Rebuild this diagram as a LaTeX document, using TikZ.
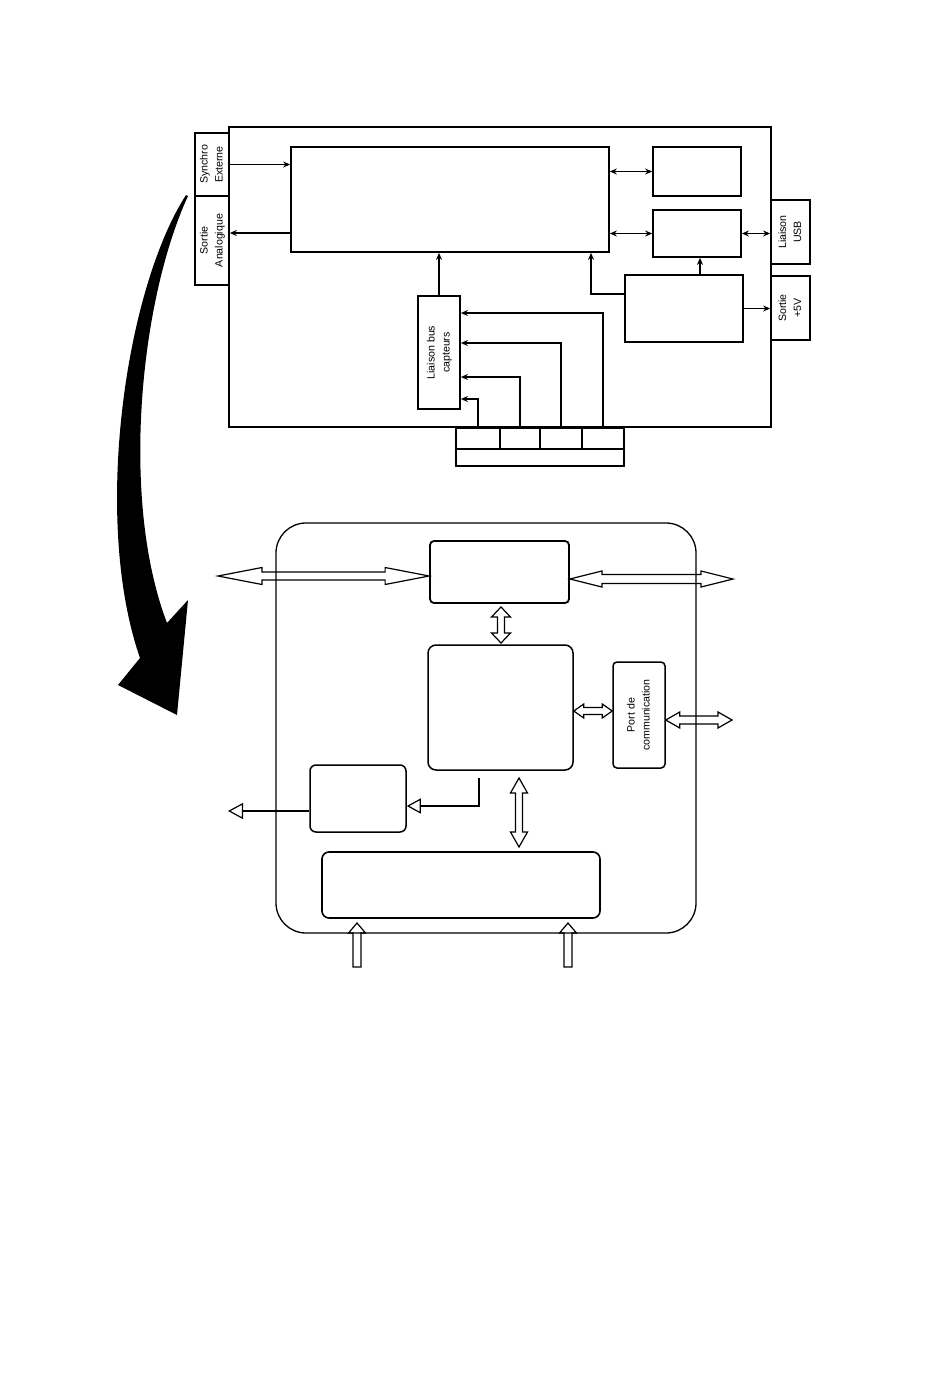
\documentclass[tikz,border=0pt]{standalone}
\usepackage{fontspec}
\setmainfont{Liberation Sans}
\usetikzlibrary{arrows.meta,calc}
\newcommand\vtext[1]{\rotatebox{90}{\begin{tabular}{@{}c@{}}#1\end{tabular}}}
% horizontal hollow double arrow: left tip, right tip, shaft half, head half, head length
\newcommand\hdbl[5]{\draw[hol] let \p1=#1, \p2=#2 in
  (\x1,\y1) -- (\x1+#5,\y1+#4) -- (\x1+#5,\y1+#3) -- (\x2-#5,\y1+#3) -- (\x2-#5,\y1+#4)
  -- (\x2,\y1) -- (\x2-#5,\y1-#4) -- (\x2-#5,\y1-#3) -- (\x1+#5,\y1-#3) -- (\x1+#5,\y1-#4) -- cycle;}
% vertical hollow double arrow: top tip, bottom tip
\newcommand\vdbl[5]{\draw[hol] let \p1=#1, \p2=#2 in
  (\x1,\y1) -- (\x1+#4,\y1-#5) -- (\x1+#3,\y1-#5) -- (\x1+#3,\y2+#5) -- (\x1+#4,\y2+#5)
  -- (\x1,\y2) -- (\x1-#4,\y2+#5) -- (\x1-#3,\y2+#5) -- (\x1-#3,\y1-#5) -- (\x1-#4,\y1-#5) -- cycle;}
% vertical hollow single arrow pointing up: tip, tail
\newcommand\vup[5]{\draw[hol] let \p1=#1, \p2=#2 in
  (\x1,\y1) -- (\x1+#4,\y1-#5) -- (\x1+#3,\y1-#5) -- (\x1+#3,\y2) -- (\x1-#3,\y2)
  -- (\x1-#3,\y1-#5) -- (\x1-#4,\y1-#5) -- cycle;}
\begin{document}
\begin{tikzpicture}[x=1pt,y=-1pt,
  lbl/.style={font=\fontsize{10.6}{15}\selectfont},
  tbox/.style={draw,line width=1.7pt,inner sep=0pt,lbl},
  tarr/.style={line width=1.3pt,-{Stealth[length=7pt,width=6pt]}},
  tdarr/.style={line width=1.3pt,{Stealth[length=7pt,width=6pt]}-{Stealth[length=7pt,width=6pt]}},
  tthin/.style={line width=1.1pt,-{Stealth[length=7pt,width=6pt]}},
  rbox/.style={draw,line width=1.5pt,inner sep=0pt,rounded corners=#1,lbl},
  rbox/.default=5pt,
  hol/.style={draw,line width=1.2pt,line join=miter},
  oarr/.style={line width=1.2pt,-{Triangle[open,length=14pt,width=15pt,line width=1.2pt]}},
  thickarr/.style={line width=2.6pt,-{Triangle[open,length=15pt,width=16pt,line width=1.2pt]}}]
\fill[white] (0,0) rectangle (950,1397);
\useasboundingbox (0,0) rectangle (950,1397);

% ---------- top diagram ----------
\node[tbox,minimum width=542pt,minimum height=300pt] (outer) at (500,277) {};
\node[tbox,line width=1.3pt,minimum width=34pt,minimum height=63pt] (synchro) at (212,164.5) {\vtext{Synchro\\Externe}};
\node[tbox,minimum width=34pt,minimum height=89pt] (ana) at (212,240.5) {\vtext{Sortie\\Analogique}};
\node[tbox,minimum width=318pt,minimum height=105pt] (main) at (450,199.5) {};
\node[tbox,minimum width=42pt,minimum height=113pt] (bus) at (439,352.5) {\vtext{Liaison bus\\capteurs}};
\node[tbox,minimum width=88pt,minimum height=49pt] (r1) at (697,171.5) {};
\node[tbox,minimum width=88pt,minimum height=47pt] (r2) at (697,233.5) {};
\node[tbox,minimum width=118pt,minimum height=67pt] (r3) at (684,308.5) {};
\node[tbox,minimum width=39pt,minimum height=64pt] (usb) at (790.5,232) {\vtext{Liaison\\USB}};
\node[tbox,minimum width=39pt,minimum height=64pt] (v5) at (790.5,308) {\vtext{Sortie\\+5V}};
\node[tbox,minimum width=44pt,minimum height=21pt] (s1) at (478,438.5) {};
\node[tbox,minimum width=40pt,minimum height=21pt] (s2) at (520,438.5) {};
\node[tbox,minimum width=42pt,minimum height=21pt] (s3) at (561,438.5) {};
\node[tbox,minimum width=42pt,minimum height=21pt] (s4) at (603,438.5) {};
\node[tbox,minimum width=168pt,minimum height=17pt] (sbar) at (540,457.5) {};

\draw[tarr] (synchro.east) -- (synchro.east -| main.west);
\draw[tarr] (main.west |- 0,233) -- (ana.east |- 0,233);
\draw[tarr] (bus.north) -- (bus.north |- main.south);
\draw[tdarr] (main.east |- r1.west) -- (r1.west);
\draw[tdarr] (main.east |- r2.west) -- (r2.west);
\draw[tdarr] (r2.east) -- (r2.east -| usb.west);
\draw[tarr] (r3.north -| 700,0) -- (r2.south -| 700,0);
\draw[tarr] (r3.west |- 0,294) -| (main.south -| 591,0);
\draw[tarr] (r3.east) -- (r3.east -| v5.west);
\draw[tthin] (s1.north) |- (bus.east |- 0,399);
\draw[tthin] (s2.north) |- (bus.east |- 0,377);
\draw[tthin] (s3.north) |- (bus.east |- 0,343);
\draw[tthin] (s4.north) |- (bus.east |- 0,313);

% ---------- big curved arrow ----------
\fill[black] (186,195) .. controls (125,290) and (92,520) .. (140,658)
  -- (118,685) -- (177,715) -- (188,600) -- (167,623)
  .. controls (120,500) and (140,300) .. (188,196) -- cycle;

% ---------- bottom diagram ----------
\node[draw,line width=1.3pt,rounded corners=30pt,minimum width=420pt,minimum height=410pt] (big) at (486,728) {};
\node[rbox=4pt,line width=1.8pt,minimum width=139pt,minimum height=62pt] (T) at (499.5,572) {};
\node[rbox=8pt,minimum width=145pt,minimum height=125pt] (M) at (500.5,707.5) {};
\node[rbox=4pt,minimum width=52pt,minimum height=106pt] (P) at (639,715) {\vtext{Port de\\communication}};
\node[rbox=6pt,minimum width=96pt,minimum height=67pt] (S) at (358,798.5) {};
\node[rbox=7pt,line width=1.6pt,minimum width=278pt,minimum height=66pt] (B) at (461,885) {};

\coordinate (lA) at (218,576);
\coordinate (rA) at (733,579);
\coordinate (pR) at (732,720);
\coordinate (tm1) at (501,607);
\coordinate (tm2) at (501,643);
\coordinate (mb1) at (519,778);
\coordinate (mb2) at (519,847);
\coordinate (u1t) at (357,923);
\coordinate (u1b) at (357,967);
\coordinate (u2t) at (568,923);
\coordinate (u2b) at (568,967);
\coordinate (ms) at (479,778);
\coordinate (sL) at (228,811);

\hdbl{(lA)}{(T.west |- 0,576)}{4pt}{8.5pt}{44pt}
\hdbl{(T.east |- 0,579)}{(rA)}{4.5pt}{8pt}{32pt}
\vdbl{(tm1)}{(tm2)}{3.5pt}{9.5pt}{10pt}
\hdbl{(M.east |- 0,711)}{(P.west |- 0,711)}{3.5pt}{7pt}{10pt}
\hdbl{(P.east |- 0,720)}{(pR)}{4pt}{8pt}{14pt}
\vdbl{(mb1)}{(mb2)}{3.5pt}{8.5pt}{15pt}
\vup{(u1t)}{(u1b)}{4pt}{8.5pt}{10pt}
\vup{(u2t)}{(u2b)}{4pt}{8.5pt}{10pt}

\draw[oarr] (ms) |- (S.east |- 0,806);
\draw[thickarr] (S.west |- 0,811) -- (sL);
\end{tikzpicture}
\end{document}
